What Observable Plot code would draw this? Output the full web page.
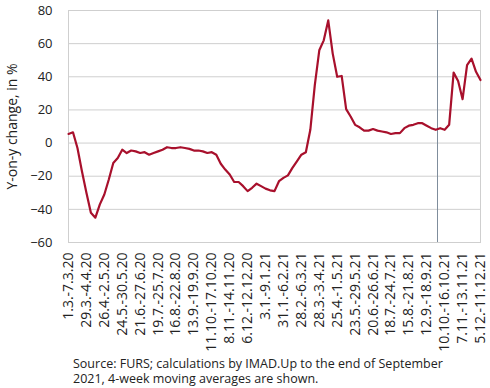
<!DOCTYPE html>
<html>
<head>
<meta charset="utf-8">
<script src="https://cdn.jsdelivr.net/npm/d3@7"></script>
<script src="https://cdn.jsdelivr.net/npm/@observablehq/plot@0.6"></script>
<style>
  body { margin: 0; background: #fff; font-family: "Open Sans", sans-serif; }
  #caption { font-size: 12.5px; line-height: 15px; color: #222; padding-left: 73px; margin-top: 4px; }
  #caption div { height: 15px; white-space: nowrap; }
</style>
</head>
<body>
<div id="chart"></div>
<div id="caption"><div>Source: FURS; calculations by IMAD.Up to the end of September</div><div>2021, 4-week moving averages are shown.</div></div>
<script>
const weekLabels = [
  "1.3.-7.3.20", "29.3.-4.4.20", "26.4.-2.5.20", "24.5.-30.5.20", "21.6.-27.6.20",
  "19.7.-25.7.20", "16.8.-22.8.20", "13.9.-19.9.20", "11.10.-17.10.20", "8.11.-14.11.20",
  "6.12.-12.12.20", "3.1.-9.1.21", "31.1.-6.2.21", "28.2.-6.3.21", "28.3.-3.4.21",
  "25.4.-1.5.21", "23.5.-29.5.21", "20.6.-26.6.21", "18.7.-24.7.21", "15.8.-21.8.21",
  "12.9.-18.9.21", "10.10.-16.10.21", "7.11.-13.11.21", "5.12.-11.12.21"
];
const labelWeeks = [0,4,8,12,16,20,24,28,32,36,40,44,48,52,56,60,64,68,72,76,80,84,88,92];
const yoyChange = [
  5.5, 6.5, -3, -17, -30, -42, -45, -37, -31, -22,
  -12, -9, -4, -6, -4.5, -5, -6, -5.5, -7, -6,
  -5, -4, -2.5, -3, -3, -2.5, -3, -3.5, -4.5, -4.5,
  -5, -6, -5.5, -7, -12.5, -16, -19, -23.5, -23.5, -26,
  -29, -27, -24.5, -26, -27.5, -28.5, -29, -23, -21, -19.5,
  -15, -11, -7, -5.5, 8, 35, 56, 62, 74, 54,
  40, 40.5, 20.5, 16, 11, 9.5, 7.5, 7.5, 8.5, 7.5,
  7, 6.5, 5.5, 6, 6, 9, 10.5, 11, 12, 12,
  10.5, 9, 8, 9, 8, 11, 42.5, 37.5, 26.5, 47,
  51, 43, 38
];
const yTicks = [-60, -40, -20, 0, 20, 40, 60, 80];
const yTitle = "Y-on-y change, in %";
const dividerWeek = [82.4];

const data = yoyChange.map((v, i) => ({week: i, value: v}));
const labelOf = new Map(labelWeeks.map((w, i) => [w, weekLabels[i]]));

const chart = Plot.plot({
  width: 490,
  height: 352,
  marginLeft: 68,
  marginRight: 10,
  marginTop: 10,
  marginBottom: 110,
  style: { fontFamily: "Open Sans, sans-serif", fontSize: "13px", color: "#222" },
  x: { domain: [0, 92] },
  y: { domain: [-60, 80] },
  marks: [
    Plot.gridY(yTicks, { stroke: "#cfcfcf", strokeOpacity: 1, strokeWidth: 1 }),
    Plot.frame({ stroke: "#cfcfcf", strokeWidth: 1 }),
    Plot.axisX(labelWeeks, { tickFormat: d => labelOf.get(d), tickRotate: -90, tickSize: 0, tickPadding: 10, fontSize: 14, label: null }),
    Plot.axisY(yTicks, { tickSize: 0, tickPadding: 16, fontSize: 13, label: null }),
    Plot.text([yTitle], { frameAnchor: "left", textAnchor: "middle", rotate: -90, dx: -56, fontSize: 14, fill: "#222" }),
    Plot.ruleX(dividerWeek, { stroke: "#7f8d9c", strokeWidth: 1 }),
    Plot.line(data, { x: "week", y: "value", stroke: "#a8102c", strokeWidth: 2.2 })
  ]
});
document.getElementById("chart").appendChild(chart);
</script>
</body>
</html>
